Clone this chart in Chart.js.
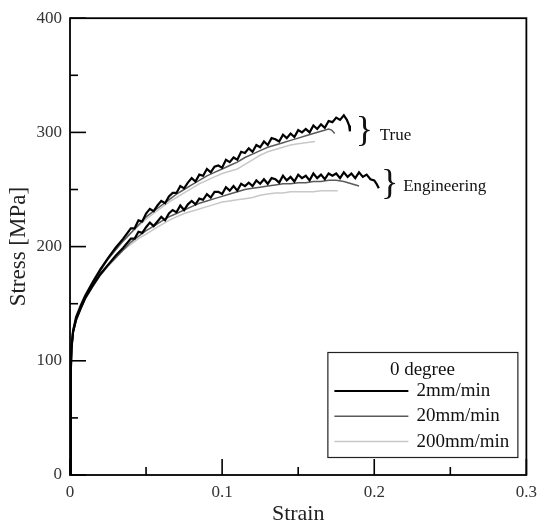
<!DOCTYPE html>
<html>
<head>
<meta charset="utf-8">
<title>Stress - Strain</title>
<script src="https://cdn.jsdelivr.net/npm/chart.js@4/dist/chart.umd.min.js"></script>
<style>
    body { margin: 0; background: #fff; }
    #grafico { display: block; }
</style>
</head>
<body>
<canvas id="grafico" width="544" height="530"></canvas>
<script>
// =====================
// Datos (strain, stress MPa)
// =====================
const true2mm = [
    [0,0],[0.0005,90],[0.001,112],[0.002,126],[0.004,138],[0.007,148],[0.01,157],[0.015,169],[0.02,180],[0.025,190],[0.03,199],[0.035,207],
    [0.04,216],[0.0425,216],[0.045,223],[0.0475,222],[0.05,229],[0.0525,233],[0.055,231],[0.0575,236],[0.06,240],[0.0625,238],
    [0.065,244],[0.0675,247],[0.07,247],[0.0725,253],[0.075,251],[0.0775,256],[0.08,260],[0.0825,257],[0.085,263],[0.0875,262],
    [0.09,268],[0.0925,265],[0.095,270],[0.0975,271],[0.1,269],[0.1025,276],[0.105,274],[0.1075,278],[0.11,276],[0.1125,283],
    [0.115,282],[0.1175,286],[0.12,283],[0.1225,289],[0.125,287],[0.1275,292],[0.13,289],[0.1325,295],[0.135,294],[0.1375,292],
    [0.14,298],[0.1425,295],[0.145,299],[0.1475,296],[0.15,302],[0.1525,300],[0.155,303],[0.1575,300],[0.16,306],[0.1625,303],
    [0.165,307],[0.1675,304],[0.17,310],[0.1725,309],[0.175,313],[0.1775,311],[0.18,315],[0.182,311],[0.1835,306],[0.184,301]
];
const eng2mm = [
    [0,0],[0.0005,90],[0.001,111],[0.002,125],[0.004,136],[0.007,146],[0.01,155],[0.015,166],[0.02,176],[0.025,184],[0.03,192],[0.035,199],
    [0.04,207],[0.0425,207],[0.045,213],[0.0475,212],[0.05,217],[0.0525,221],[0.055,218],[0.0575,222],[0.06,226],[0.0625,223],
    [0.065,229],[0.0675,232],[0.07,230],[0.0725,236],[0.075,232],[0.0775,237],[0.08,240],[0.0825,237],[0.085,242],[0.0875,241],
    [0.09,246],[0.0925,243],[0.095,248],[0.0975,248],[0.1,246],[0.1025,252],[0.105,249],[0.1075,253],[0.11,249],[0.1125,255],
    [0.115,253],[0.1175,256],[0.12,253],[0.1225,258],[0.125,255],[0.1275,259],[0.13,255],[0.1325,260],[0.135,259],[0.1375,256],
    [0.14,262],[0.1425,258],[0.145,261],[0.1475,257],[0.15,263],[0.1525,260],[0.155,262],[0.1575,258],[0.16,264],[0.1625,260],
    [0.165,263],[0.1675,259],[0.17,264],[0.1725,262],[0.175,264],[0.1775,260],[0.18,265],[0.1825,261],[0.185,264],[0.1875,260],
    [0.19,265],[0.1925,261],[0.195,263],[0.1975,259],[0.2,258],[0.2015,255],[0.203,251]
];
const true20mm = [
    [0,0],[0.0005,88],[0.001,110],[0.002,125],[0.004,137],[0.007,147],[0.01,156],[0.015,168],[0.02,179],[0.025,189],[0.03,197],[0.035,205],
    [0.04,212],[0.045,219],[0.05,226],[0.055,231],[0.06,236],[0.065,241],[0.07,246],[0.075,250],[0.08,254],[0.085,258],[0.09,262],[0.095,265],
    [0.1,268],[0.105,271],[0.11,274],[0.115,278],[0.12,281],[0.125,284],[0.13,287],[0.135,289],[0.14,291],[0.145,293],[0.15,295],[0.155,297],
    [0.16,299],[0.165,301],[0.17,303],[0.172,302],[0.174,299]
];
const eng20mm = [
    [0,0],[0.0005,88],[0.001,109],[0.002,124],[0.004,135],[0.007,145],[0.01,154],[0.015,165],[0.02,175],[0.025,183],[0.03,190],[0.035,197],
    [0.04,204],[0.045,209],[0.05,214],[0.055,218],[0.06,222],[0.065,226],[0.07,229],[0.075,232],[0.08,235],[0.085,238],[0.09,240],[0.095,242],
    [0.1,244],[0.105,246],[0.11,248],[0.115,250],[0.12,251],[0.125,252],[0.13,253],[0.135,254],[0.14,255],[0.145,255],[0.15,256],[0.155,256],
    [0.16,257],[0.165,257],[0.17,258],[0.175,258],[0.18,257],[0.185,255],[0.19,253]
];
const true200mm = [
    [0,0],[0.0005,92],[0.001,114],[0.002,128],[0.004,140],[0.007,150],[0.01,158],[0.015,170],[0.02,181],[0.025,190],[0.03,198],[0.035,205],
    [0.04,212],[0.045,218],[0.05,224],[0.055,229],[0.06,234],[0.065,239],[0.07,243],[0.075,247],[0.08,251],[0.085,255],[0.09,258],[0.095,261],
    [0.1,264],[0.105,266],[0.11,268],[0.115,272],[0.12,276],[0.125,280],[0.13,283],[0.135,285],[0.14,287],[0.145,289],[0.15,290],[0.155,291],[0.161,292]
];
const eng200mm = [
    [0,0],[0.0005,92],[0.001,113],[0.002,127],[0.004,139],[0.007,148],[0.01,156],[0.015,167],[0.02,176],[0.025,184],[0.03,191],[0.035,197],
    [0.04,202],[0.045,207],[0.05,211],[0.055,215],[0.06,219],[0.065,223],[0.07,226],[0.075,229],[0.08,231],[0.085,233],[0.09,235],[0.095,237],
    [0.1,239],[0.105,240],[0.11,241],[0.115,242],[0.12,243],[0.125,245],[0.13,246],[0.135,247],[0.14,247],[0.145,248],[0.15,248],[0.155,248],
    [0.16,248],[0.165,249],[0.17,249],[0.176,249]
];

const velocidades = ["2mm/min", "20mm/min", "200mm/min"];
const tituloLeyenda = "0 degree";
const xMenores = [0.05, 0.15, 0.25];
const yMenores = [50, 150, 250, 350];

// etiquetas con llave (posicion en coordenadas de datos)
const anotaciones = [
    { texto: "True", llave: [0.1936, 300.5], etiqueta: [0.2036, 293.5] },
    { texto: "Engineering", llave: [0.2101, 254], etiqueta: [0.219, 248.8] }
];

const colores = ["#000000", "#5a5a5a", "#c8c8c8"];
const anchos = [2.2, 1.5, 1.5];
const FUENTE = '"Liberation Serif", "Times New Roman", serif';

const aPuntos = arr => arr.map(p => ({ x: p[0], y: p[1] }));

const series = [
    { label: velocidades[0] + " true", data: true2mm, c: 0 },
    { label: velocidades[0] + " eng", data: eng2mm, c: 0 },
    { label: velocidades[1] + " true", data: true20mm, c: 1 },
    { label: velocidades[1] + " eng", data: eng20mm, c: 1 },
    { label: velocidades[2] + " true", data: true200mm, c: 2 },
    { label: velocidades[2] + " eng", data: eng200mm, c: 2 }
];

// =====================
// Marco, ticks interiores, leyenda y anotaciones
// =====================
const decoracion = {
    id: "decoracion",
    afterDraw(chart) {
        const ctx = chart.ctx;
        const a = chart.chartArea;
        const sx = chart.scales.x;
        const sy = chart.scales.y;
        ctx.save();
        ctx.strokeStyle = "#000";
        ctx.lineWidth = 1.8;
        ctx.strokeRect(a.left, a.top, a.right - a.left, a.bottom - a.top);

        const tickX = (v, len) => {
            const px = sx.getPixelForValue(v);
            ctx.beginPath();
            ctx.moveTo(px, a.bottom);
            ctx.lineTo(px, a.bottom - len);
            ctx.stroke();
        };
        const tickY = (v, len) => {
            const py = sy.getPixelForValue(v);
            ctx.beginPath();
            ctx.moveTo(a.left, py);
            ctx.lineTo(a.left + len, py);
            ctx.stroke();
        };
        ctx.lineWidth = 1.6;
        sx.ticks.forEach(t => tickX(t.value, 16));
        xMenores.forEach(v => tickX(v, 8));
        sy.ticks.forEach(t => tickY(t.value, 16));
        yMenores.forEach(v => tickY(v, 8));

        // anotaciones
        ctx.fillStyle = "#111";
        anotaciones.forEach(an => {
            ctx.font = "36px " + FUENTE;
            ctx.textAlign = "center";
            ctx.textBaseline = "middle";
            ctx.fillText("}", sx.getPixelForValue(an.llave[0]), sy.getPixelForValue(an.llave[1]));
            ctx.font = "17px " + FUENTE;
            ctx.textAlign = "left";
            ctx.textBaseline = "alphabetic";
            ctx.fillText(an.texto, sx.getPixelForValue(an.etiqueta[0]), sy.getPixelForValue(an.etiqueta[1]));
        });

        // leyenda
        const w = 190, h = 105;
        const bx = a.right - 9 - w;
        const by = a.bottom - 18 - h;
        ctx.fillStyle = "#fff";
        ctx.fillRect(bx, by, w, h);
        ctx.strokeStyle = "#222";
        ctx.lineWidth = 1.2;
        ctx.strokeRect(bx + 0.5, by + 0.5, w, h);
        ctx.fillStyle = "#111";
        ctx.font = "19px " + FUENTE;
        ctx.textAlign = "center";
        ctx.textBaseline = "middle";
        ctx.fillText(tituloLeyenda, bx + 95, by + 18);
        ctx.textAlign = "left";
        velocidades.forEach((v, i) => {
            const yy = by + 39 + i * 25.3;
            ctx.strokeStyle = colores[i];
            ctx.lineWidth = anchos[i];
            ctx.beginPath();
            ctx.moveTo(bx + 7, yy);
            ctx.lineTo(bx + 81, yy);
            ctx.stroke();
            ctx.fillText(v, bx + 89, yy);
        });
        ctx.restore();
    }
};

const ctx = document.getElementById("grafico").getContext("2d");
new Chart(ctx, {
    type: "line",
    data: {
        datasets: series.map(s => ({
            label: s.label,
            data: aPuntos(s.data),
            borderColor: colores[s.c],
            borderWidth: anchos[s.c],
            pointRadius: 0,
            fill: false,
            tension: 0
        }))
    },
    options: {
        responsive: false,
        animation: false,
        layout: { padding: { top: 14, right: 13, left: 0, bottom: 0 } },
        plugins: {
            legend: { display: false },
            tooltip: { enabled: false }
        },
        scales: {
            x: {
                type: "linear",
                min: 0,
                max: 0.3,
                afterFit: s => { s.height = 55; },
                grid: { display: false, drawTicks: false },
                border: { display: false },
                ticks: {
                    stepSize: 0.1,
                    padding: 7,
                    color: "#333",
                    font: { family: FUENTE, size: 17 }
                },
                title: {
                    display: true,
                    text: "Strain",
                    color: "#222",
                    padding: { top: 0, bottom: 3 },
                    font: { family: FUENTE, size: 22 }
                }
            },
            y: {
                min: 0,
                max: 400,
                afterFit: s => { s.width = 70; },
                grid: { display: false, drawTicks: false },
                border: { display: false },
                ticks: {
                    stepSize: 100,
                    padding: 8,
                    color: "#333",
                    font: { family: FUENTE, size: 17 }
                },
                title: {
                    display: true,
                    text: "Stress [MPa]",
                    color: "#222",
                    padding: { top: 5, bottom: 0 },
                    font: { family: FUENTE, size: 23 }
                }
            }
        }
    },
    plugins: [decoracion]
});
</script>
</body>
</html>
